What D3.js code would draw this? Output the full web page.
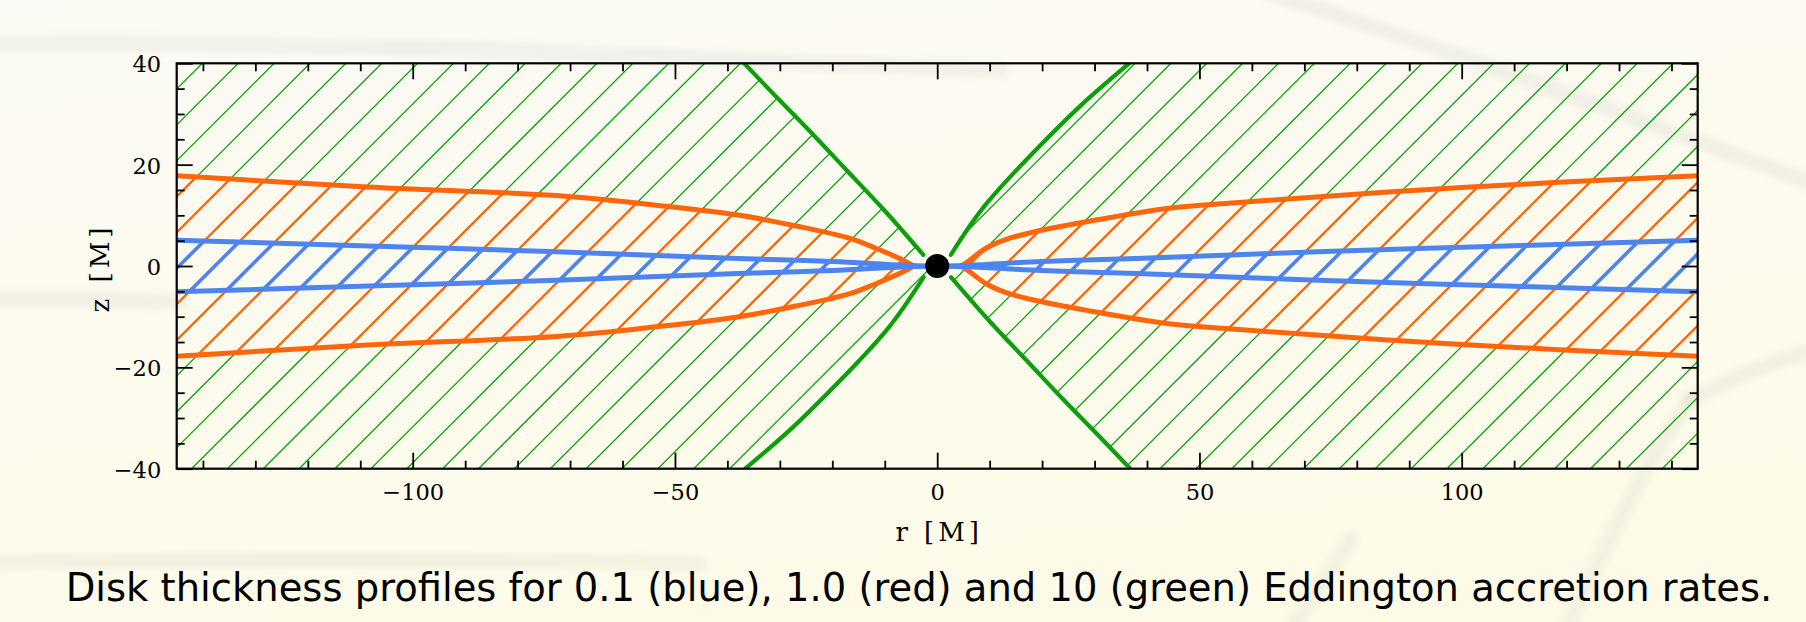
<!DOCTYPE html>
<html>
<head>
<meta charset="utf-8">
<script src="https://cdn.jsdelivr.net/npm/d3@7"></script>
<style>
  html, body { margin: 0; padding: 0; background: #fbfaf3; }
  svg { display: block; }
  .tickLabel { font-family: "DejaVu Serif", serif; font-size: 22.5px; fill: #000; }
  .axisTitle { font-family: "DejaVu Serif", serif; font-size: 26px; fill: #000; letter-spacing: 4px; }
  .caption { font-family: "DejaVu Sans", sans-serif; font-size: 38.5px; fill: #000; }
</style>
</head>
<body>
<svg width="1806" height="622"></svg>
<script>
WIDTH = 1806;
HEIGHT = 622;

// plot frame in pixels
var X0 = 176.7, X1 = 1697.7, Y0 = 63.3, Y1 = 468.7;

var rDomain = [-145, 145];
var zDomain = [-40, 40];
var xMajor = [-100, -50, 0, 50, 100];
var yMajor = [-40, -20, 0, 20, 40];
var xMinorStep = 10;
var yMinorStep = 5;

// upper halves (r in M, z in M)
// blue: 0.1 Eddington, symmetric in r and z
var blueR = [0, 20, 38, 72.6, 110, 145];
var blueZ = [0, 0.9, 1.5, 2.8, 4.0, 5.1];

// red/orange: 1.0 Eddington, symmetric in z
var orangeLeftR = [4.5, 6.6, 11.7, 16.8, 26.9, 38.3, 53.6, 72.6, 108.7, 145];
var orangeLeftZ = [0, 1.2, 3.5, 5.5, 7.9, 10.1, 12.0, 13.9, 15.6, 17.8];
var orangeRightR = [4.6, 6, 9.3, 13, 18.8, 28.3, 44.2, 56.9, 100, 145];
var orangeRightZ = [0, 1.0, 3.5, 5.2, 6.8, 8.7, 11.4, 12.5, 15.5, 17.8];

// green: 10 Eddington, point symmetric about the origin
var greenLeftR = [2.65, 10, 17, 24, 30.6, 36.8];
var greenLeftZ = [2.2, 10.9, 18.6, 26.3, 33.3, 40];
var greenRightR = [2.6, 9.3, 18.8, 27.7, 36.6];
var greenRightZ = [2.2, 12.2, 22.9, 32.0, 40];

var colors = { blue: "#4d84ee", orange: "#ff650a", green: "#0ba00b" };

var HATCH_STEP = 35.87, HATCH_PHASE = 25.7;

var svg = d3.select("svg");
var x = d3.scaleLinear().domain(rDomain).range([X0, X1]);
var y = d3.scaleLinear().domain(zDomain).range([Y1, Y0]);

var line = d3.line()
  .x(function (d) { return x(d[0]); })
  .y(function (d) { return y(d[1]); })
  .curve(d3.curveCatmullRom.alpha(0.5));
var smooth = d3.line()
  .x(function (d) { return x(d[0]); })
  .y(function (d) { return y(d[1]); })
  .curve(d3.curveNatural);

function pts (rs, zs, sr, sz) {
  return rs.map(function (r, i) { return [sr * r, sz * zs[i]]; });
}
function byR (a) { return a.slice().sort(function (p, q) { return p[0] - q[0]; }); }
function rev (a) { return a.slice().reverse(); }

// joins several curve pieces into one path string
function joined (pieces, gen) {
  var s = pieces.map(function (p, i) {
    var d = p.length > 1 ? gen(p) : "M" + x(p[0][0]) + "," + y(p[0][1]);
    return i === 0 ? d : "L" + d.slice(1);
  }).join("");
  return s + "Z";
}

var blueUpper = byR(pts(blueR, blueZ, -1, 1).concat(pts(blueR.slice(1), blueZ.slice(1), 1, 1)));
var blueLower = blueUpper.map(function (p) { return [p[0], -p[1]]; });

var orUL = byR(pts(orangeLeftR, orangeLeftZ, -1, 1));
var orLL = byR(pts(orangeLeftR, orangeLeftZ, -1, -1));
var orUR = byR(pts(orangeRightR, orangeRightZ, 1, 1));
var orLR = byR(pts(orangeRightR, orangeRightZ, 1, -1));

var grUL = byR(pts(greenLeftR, greenLeftZ, -1, 1));
var grLR = byR(pts(greenLeftR, greenLeftZ, 1, -1));
var grUR = byR(pts(greenRightR, greenRightZ, 1, 1));
var grLL = byR(pts(greenRightR, greenRightZ, -1, -1));

drawBackground();
drawRegions();
drawCurves();
drawAxes();
drawText();

function drawBackground () {
  var defs = svg.append("defs");
  var g = defs.append("linearGradient").attr("id", "bg")
    .attr("x1", 0).attr("y1", 0).attr("x2", 0.3).attr("y2", 1);
  g.append("stop").attr("offset", 0).attr("stop-color", "#fbfaf4");
  g.append("stop").attr("offset", 1).attr("stop-color", "#fdfbe8");
  defs.append("filter").attr("id", "blur")
    .append("feGaussianBlur").attr("stdDeviation", 3);

  svg.append("rect").attr("width", WIDTH).attr("height", HEIGHT).attr("fill", "url(#bg)");

  // faint decorative streaks of the slide background
  var streaks = [
    "M-20,44 C200,42 420,46 640,56 C780,62 900,66 1000,70",
    "M1260,-10 C1450,50 1640,120 1830,190",
    "M-20,300 C60,298 120,300 180,302",
    "M-20,563 C150,560 400,558 700,564",
    "M1690,400 C1730,380 1770,360 1820,350",
    "M1560,640 C1600,560 1640,470 1690,400",
    "M1290,630 C1310,600 1330,570 1350,540"
  ];
  svg.append("g").attr("filter", "url(#blur)")
    .selectAll("path").data(streaks).enter().append("path")
    .attr("d", function (d) { return d; })
    .attr("fill", "none")
    .attr("stroke", "#000")
    .attr("stroke-opacity", 0.04)
    .attr("stroke-width", 16)
    .attr("stroke-linecap", "round");
}

function hatch (parent, color, width) {
  var span = (X1 - X0) + (Y1 - Y0);
  var ks = d3.range(-2, Math.ceil(span / HATCH_STEP) + 2);
  parent.selectAll("line").data(ks).enter().append("line")
    .attr("x1", function (k) { return X0 + HATCH_PHASE + k * HATCH_STEP + 20; })
    .attr("y1", Y0 - 20)
    .attr("x2", function (k) { return X0 + HATCH_PHASE + k * HATCH_STEP - (Y1 - Y0) - 20; })
    .attr("y2", Y1 + 20)
    .attr("stroke", color)
    .attr("stroke-width", width);
}

function drawRegions () {
  var defs = svg.select("defs");
  defs.append("clipPath").attr("id", "plotClip")
    .append("rect").attr("x", X0).attr("y", Y0).attr("width", X1 - X0).attr("height", Y1 - Y0);

  var greenLeft = joined([[[-150, 40]], grUL, [[0, 0]], rev(grLL), [[-150, -40]]], smooth);
  var greenRight = joined([[[150, 40]], rev(grUR), [[0, 0]], grLR, [[150, -40]]], smooth);
  var gc = defs.append("clipPath").attr("id", "greenClip");
  gc.append("path").attr("d", greenLeft);
  gc.append("path").attr("d", greenRight);

  defs.append("clipPath").attr("id", "orangeClip")
    .append("path").attr("d", joined([orUL, orUR, rev(orLR), rev(orLL)], line));

  defs.append("clipPath").attr("id", "blueClip")
    .append("path").attr("d", joined([blueUpper, rev(blueLower)], line));

  var plot = svg.append("g").attr("clip-path", "url(#plotClip)");
  hatch(plot.append("g").attr("clip-path", "url(#greenClip)"), colors.green, 1.3);
  hatch(plot.append("g").attr("clip-path", "url(#orangeClip)"), colors.orange, 2.3);
  hatch(plot.append("g").attr("clip-path", "url(#blueClip)"), colors.blue, 3.6);
}

function drawCurves () {
  var g = svg.append("g").attr("clip-path", "url(#plotClip)")
    .attr("fill", "none").attr("stroke-linecap", "round").attr("stroke-linejoin", "round");

  [grUL, grLL, grUR, grLR].forEach(function (c) {
    g.append("path").attr("d", smooth(c)).attr("stroke", colors.green).attr("stroke-width", 4.2);
  });
  [orUL, orLL, orUR, orLR].forEach(function (c) {
    g.append("path").attr("d", line(c)).attr("stroke", colors.orange).attr("stroke-width", 5);
  });
  [blueUpper, blueLower].forEach(function (c) {
    g.append("path").attr("d", line(c)).attr("stroke", colors.blue).attr("stroke-width", 5);
  });

  // black hole at the origin
  svg.append("circle").attr("cx", x(0)).attr("cy", y(0)).attr("r", 12).attr("fill", "#000");
}

function drawAxes () {
  var xMinor = d3.range(-140, 141, xMinorStep).filter(function (v) { return v % 50 !== 0; });
  var yMinor = d3.range(-35, 36, yMinorStep).filter(function (v) { return v % 20 !== 0; });

  function styleAxis (sel) {
    sel.select(".domain").remove();
    sel.selectAll(".tick line").attr("stroke", "#000").attr("stroke-width", 1.8);
    sel.selectAll(".tick text").attr("class", "tickLabel").attr("fill", "#000");
  }
  var minus = function (v) { return v < 0 ? "\u2212" + Math.abs(v) : String(v); };

  // bottom
  svg.append("g").attr("transform", "translate(0," + Y1 + ")")
    .call(d3.axisBottom(x).tickValues(xMinor).tickSize(-8).tickFormat(""))
    .call(styleAxis);
  svg.append("g").attr("transform", "translate(0," + Y1 + ")")
    .call(d3.axisBottom(x).tickValues(xMajor).tickSize(-16).tickPadding(15).tickFormat(minus))
    .call(styleAxis);
  // top
  svg.append("g").attr("transform", "translate(0," + Y0 + ")")
    .call(d3.axisTop(x).tickValues(xMinor).tickSize(-8).tickFormat(""))
    .call(styleAxis);
  svg.append("g").attr("transform", "translate(0," + Y0 + ")")
    .call(d3.axisTop(x).tickValues(xMajor).tickSize(-16).tickFormat(""))
    .call(styleAxis);
  // left
  svg.append("g").attr("transform", "translate(" + X0 + ",0)")
    .call(d3.axisLeft(y).tickValues(yMinor).tickSize(-8).tickFormat(""))
    .call(styleAxis);
  var left = svg.append("g").attr("transform", "translate(" + X0 + ",0)")
    .call(d3.axisLeft(y).tickValues(yMajor).tickSize(-16).tickPadding(15.5).tickFormat(minus))
    .call(styleAxis);
  left.selectAll(".tick text").attr("dy", "0.38em");
  // right
  svg.append("g").attr("transform", "translate(" + X1 + ",0)")
    .call(d3.axisRight(y).tickValues(yMinor).tickSize(-8).tickFormat(""))
    .call(styleAxis);
  svg.append("g").attr("transform", "translate(" + X1 + ",0)")
    .call(d3.axisRight(y).tickValues(yMajor).tickSize(-16).tickFormat(""))
    .call(styleAxis);

  // frame
  svg.append("rect")
    .attr("x", X0).attr("y", Y0).attr("width", X1 - X0).attr("height", Y1 - Y0)
    .attr("fill", "none").attr("stroke", "#000").attr("stroke-width", 2.2);
}

function drawText () {
  svg.append("text")
    .attr("class", "axisTitle")
    .attr("text-anchor", "middle")
    .attr("x", (X0 + X1) / 2 + 2)
    .attr("y", 541)
    .text("r [M]");
  svg.append("text")
    .attr("class", "axisTitle")
    .attr("text-anchor", "middle")
    .attr("transform", "translate(109," + ((Y0 + Y1) / 2 + 2) + ") rotate(-90)")
    .text("z [M]");
  svg.append("text")
    .attr("class", "caption")
    .attr("text-anchor", "middle")
    .attr("x", 919)
    .attr("y", 601)
    .text("Disk thickness profiles for 0.1 (blue), 1.0 (red) and 10 (green) Eddington accretion rates.");
}
</script>
</body>
</html>
